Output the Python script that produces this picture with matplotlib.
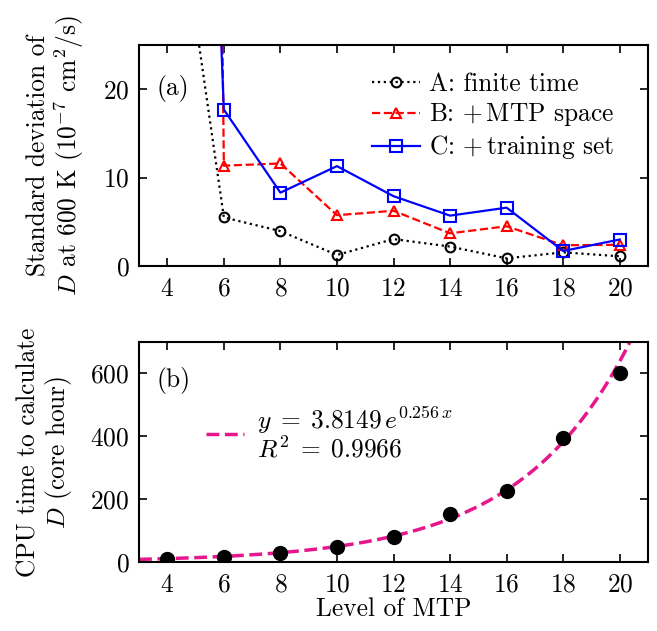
import numpy as np
import matplotlib
matplotlib.use('Agg')
import matplotlib.pyplot as plt

plt.rcParams['font.family'] = 'serif'
plt.rcParams['font.serif'] = ['cmr10']
plt.rcParams['mathtext.fontset'] = 'cm'
plt.rcParams['axes.unicode_minus'] = False
plt.rcParams['axes.formatter.use_mathtext'] = True
plt.rcParams['font.size'] = 18.3

# (a) standard deviation of D at 600 K, per MTP level
levels = [4, 6, 8, 10, 12, 14, 16, 18, 20]
std_a = [50.0, 5.5, 3.95, 1.25, 3.05, 2.2, 0.87, 1.55, 1.1]
std_b = [600.0, 11.35, 11.6, 5.75, 6.25, 3.7, 4.5, 2.35, 2.4]
std_c = [180.0, 17.7, 8.3, 11.3, 7.9, 5.7, 6.6, 1.7, 3.0]

# (b) CPU time, core hours
cpu_time = [9.5, 17, 30, 49, 78, 152, 226, 395, 601]
fit_a = 3.8149
fit_b = 0.256
fit_r2 = 0.9966

fig = plt.figure(figsize=(6.57, 6.31), dpi=100)
ax1 = fig.add_axes([0.2116, 0.5784, 0.7747, 0.3503])
ax2 = fig.add_axes([0.2116, 0.1094, 0.7747, 0.3486])

ax1.plot(levels, std_a, ':', color='black', lw=1.6, marker='o', ms=7,
         mfc='none', mec='black', mew=1.5, label='A: finite time')
ax1.plot(levels, std_b, '--', color='red', lw=1.6, marker='^', ms=7,
         mfc='none', mec='red', mew=1.5, label=r'B: $+\,$MTP space')
ax1.plot(levels, std_c, '-', color='blue', lw=1.6, marker='s', ms=8,
         mfc='none', mec='blue', mew=1.5, label=r'C: $+\,$training set')
ax1.set_xlim(3, 21)
ax1.set_ylim(0, 25)
ax1.set_yticks([0, 10, 20])
ax1.set_ylabel('Standard deviation of\n$D$ at 600 K ($10^{-7}$ cm$^2$/s)',
               linespacing=1.1, labelpad=12)
ax1.text(0.035, 0.805, '(a)', transform=ax1.transAxes, va='center')
ax1.legend(loc='center left', bbox_to_anchor=(0.458, 0.674), frameon=False,
           borderpad=0, borderaxespad=0, handlelength=1.9, handletextpad=0.35,
           labelspacing=0.2)

xs = np.linspace(3, 21, 200)
fit_label = ('$y\\;=\\;%.4f\\,e^{%.3f\\,x}$\n$R^2\\;=\\;%.4f$'
             % (fit_a, fit_b, fit_r2))
ax2.plot(xs, fit_a * np.exp(fit_b * xs), '--', color='#e6168c', lw=2.5,
         label=fit_label)
ax2.plot(levels, cpu_time, 'o', color='black', ms=10)
ax2.set_xlim(3, 21)
ax2.set_ylim(0, 700)
ax2.set_yticks([0, 200, 400, 600])
ax2.set_xlabel('Level of MTP', labelpad=0)
ax2.set_ylabel('CPU time to calculate\n$D$ (core hour)',
               linespacing=1.1, labelpad=12)
ax2.text(0.035, 0.827, '(b)', transform=ax2.transAxes, va='center')
leg = ax2.legend(loc='center left', bbox_to_anchor=(0.1316, 0.582), frameon=False,
                 borderpad=0, borderaxespad=0, handlelength=1.5, handletextpad=0.5)
for t in leg.get_texts():
    t.set_linespacing(1.0)

for ax in (ax1, ax2):
    ax.set_xticks([4, 6, 8, 10, 12, 14, 16, 18, 20])
    ax.tick_params(direction='in', top=True, right=True, length=6, width=1.2)
    ax.tick_params(axis='x', pad=8)
    ax.tick_params(axis='y', pad=7)
    for s in ax.spines.values():
        s.set_linewidth(1.5)

fig.align_ylabels([ax1, ax2])
fig.savefig('out.png', dpi=100)
